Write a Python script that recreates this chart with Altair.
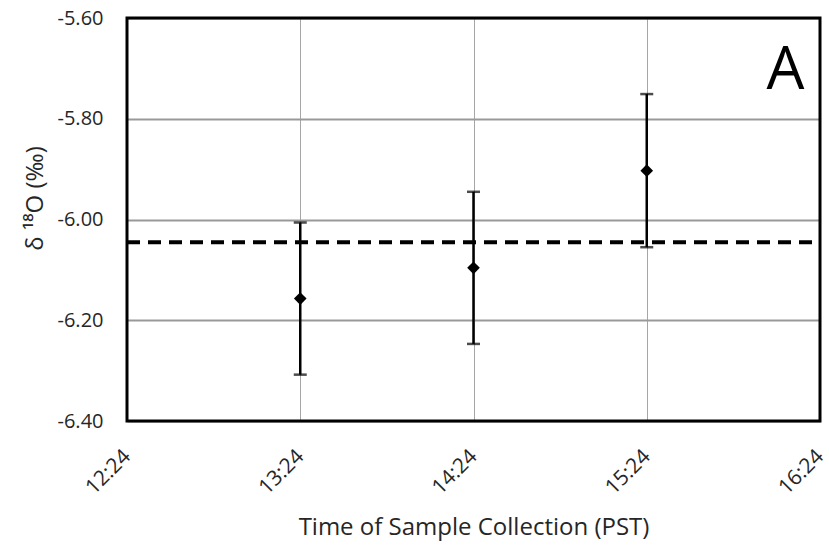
import altair as alt
import pandas as pd

# minutes since midnight
sample_times = [804, 864, 924]
delta18O = [-6.157, -6.096, -5.903]
err = [0.151, 0.151, 0.152]
mean_line = -6.045
tick_minutes = [744, 804, 864, 924, 984]
tick_labels = ["12:24", "13:24", "14:24", "15:24", "16:24"]
y_ticks = [-6.4, -6.2, -6.0, -5.8, -5.6]
panel_label = "A"
panel_x = 972
panel_y = -5.706

df = pd.DataFrame({
    "t": sample_times,
    "v": delta18O,
    "lo": [v - e for v, e in zip(delta18O, err)],
    "hi": [v + e for v, e in zip(delta18O, err)],
})
line_df = pd.DataFrame({"t": [tick_minutes[0], tick_minutes[-1]], "v": [mean_line, mean_line]})
lab_df = pd.DataFrame({"t": [panel_x], "v": [panel_y], "txt": [panel_label]})
frame_df = pd.DataFrame({"x1": [tick_minutes[0]], "x2": [tick_minutes[-1]],
                         "y1": [y_ticks[0]], "y2": [y_ticks[-1]]})

label_map = "{" + ",".join(f"'{m}':'{l}'" for m, l in zip(tick_minutes, tick_labels)) + "}"

FONT = "Open Sans"
TXT = "#262626"
xscale = alt.Scale(domain=[tick_minutes[0], tick_minutes[-1]], nice=False, zero=False)
yscale = alt.Scale(domain=[y_ticks[0], y_ticks[-1]], nice=False, zero=False)

xaxis = alt.Axis(
    values=tick_minutes,
    labelExpr=f"{label_map}[toString(datum.value)]",
    labelAngle=-45, labelAlign="right", labelBaseline="middle",
    labelFontSize=21, labelFont=FONT, labelColor=TXT, labelPadding=32,
    ticks=False, domain=False, grid=True, gridColor="#a6a6a6", gridWidth=1,
    title="Time of Sample Collection (PST)", titleFontSize=24, titleFont=FONT,
    titleFontWeight="normal", titleColor=TXT, titlePadding=18,
)
yaxis = alt.Axis(
    values=y_ticks,
    labelExpr="replace(format(datum.value, '.2f'), '\u2212', '-')",
    labelFontSize=20, labelFont=FONT, labelColor=TXT, labelPadding=24,
    ticks=False, domain=False, grid=True, gridColor="#999999", gridWidth=2,
    title="δ ¹⁸O (‰)", titleFontSize=24, titleFont=FONT, titleFontWeight="normal",
    titleColor=TXT, titlePadding=10, titleY=180,
)

base = alt.Chart(df)
rules = base.mark_rule(color="black", strokeWidth=2.5).encode(
    x=alt.X("t:Q", scale=xscale, axis=xaxis),
    y=alt.Y("lo:Q", scale=yscale, axis=yaxis),
    y2="hi:Q",
)
cap_lo = base.mark_tick(color="black", thickness=2.5, size=13, orient="horizontal").encode(
    x="t:Q", y="lo:Q")
cap_hi = base.mark_tick(color="black", thickness=2.5, size=13, orient="horizontal").encode(
    x="t:Q", y="hi:Q")
pts = base.mark_point(shape="diamond", filled=True, color="black", size=160, opacity=1).encode(
    x="t:Q", y="v:Q")
dash = alt.Chart(line_df).mark_line(color="black", strokeWidth=4, strokeDash=[13, 8]).encode(
    x="t:Q", y="v:Q")
label = alt.Chart(lab_df).mark_text(fontSize=60, font=FONT, color="black", align="center",
                                    baseline="middle").encode(
    x="t:Q", y="v:Q", text="txt:N")
frame = alt.Chart(frame_df).mark_rect(fill=None, fillOpacity=0, stroke="black",
                                      strokeWidth=3).encode(
    x="x1:Q", x2="x2:Q", y="y1:Q", y2="y2:Q")

chart = alt.layer(rules, cap_lo, cap_hi, dash, pts, label, frame).properties(
    width=693, height=403,
    autosize=alt.AutoSizeParams(type="none"),
    padding={"left": 127, "top": 18, "right": 9, "bottom": 129},
).configure_view(stroke=None).configure(background="white")

chart.save("out.html", embed_options={"renderer": "svg", "actions": False})
